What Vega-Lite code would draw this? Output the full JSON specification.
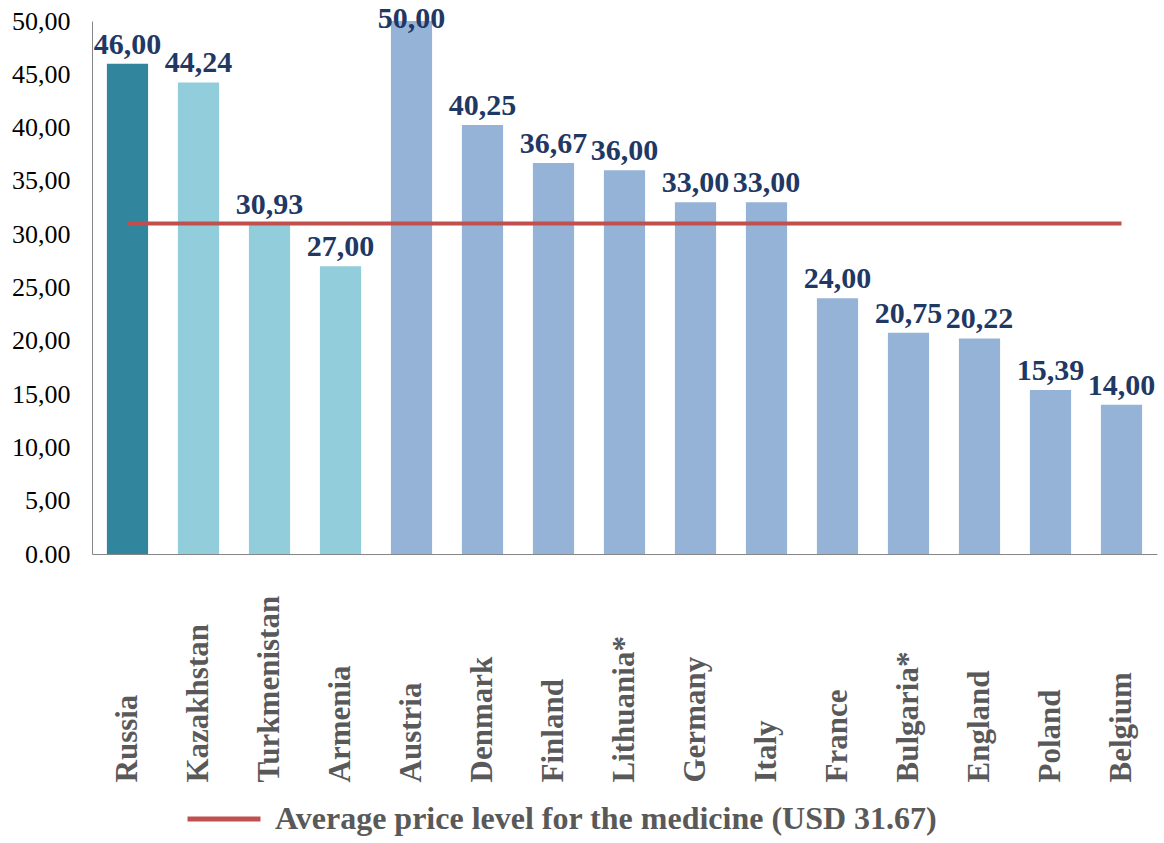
{
  "$schema": "https://vega.github.io/schema/vega-lite/v6.json",
  "width": 1065,
  "height": 533,
  "autosize": {"type": "none"},
  "padding": {"left": 92, "top": 21, "right": 7, "bottom": 289},
  "background": "white",
  "config": {
    "view": {"stroke": null},
    "locale": {"number": {"decimal": ",", "thousands": ".", "grouping": [3], "currency": ["", ""]}}
  },
  "data": {
    "values": [
      {"country": "Russia", "price": 46.00, "group": "Russia"},
      {"country": "Kazakhstan", "price": 44.24, "group": "CIS"},
      {"country": "Turkmenistan", "price": 30.93, "group": "CIS"},
      {"country": "Armenia", "price": 27.00, "group": "CIS"},
      {"country": "Austria", "price": 50.00, "group": "Europe"},
      {"country": "Denmark", "price": 40.25, "group": "Europe"},
      {"country": "Finland", "price": 36.67, "group": "Europe"},
      {"country": "Lithuania*", "price": 36.00, "group": "Europe"},
      {"country": "Germany", "price": 33.00, "group": "Europe"},
      {"country": "Italy", "price": 33.00, "group": "Europe"},
      {"country": "France", "price": 24.00, "group": "Europe"},
      {"country": "Bulgaria*", "price": 20.75, "group": "Europe"},
      {"country": "England", "price": 20.22, "group": "Europe"},
      {"country": "Poland", "price": 15.39, "group": "Europe"},
      {"country": "Belgium", "price": 14.00, "group": "Europe"}
    ]
  },
  "encoding": {
    "x": {
      "field": "country",
      "type": "nominal",
      "sort": null,
      "scale": {"paddingInner": 0.42, "paddingOuter": 0.21},
      "axis": {
        "title": null,
        "labelAngle": -90,
        "labelAlign": "left",
        "labelBaseline": "middle",
        "labelPadding": 228,
        "ticks": false,
        "domainColor": "#868686",
        "labelFont": "Liberation Serif",
        "labelFontWeight": "bold",
        "labelFontSize": 31,
        "labelColor": "#595959",
        "labelOverlap": false,
        "labelLimit": 400
      }
    }
  },
  "layer": [
    {
      "mark": {"type": "bar"},
      "encoding": {
        "y": {
          "field": "price",
          "type": "quantitative",
          "scale": {"domain": [0, 50], "nice": false},
          "axis": {
            "title": null,
            "values": [0, 5, 10, 15, 20, 25, 30, 35, 40, 45, 50],
            "format": ".2f",
            "labelExpr": "datum.value == 0 ? '0.00' : datum.label",
            "ticks": false,
            "grid": false,
            "domainColor": "#868686",
            "labelFont": "Liberation Serif",
            "labelFontSize": 26,
            "labelColor": "#000000",
            "labelPadding": 22
          }
        },
        "color": {
          "field": "group",
          "type": "nominal",
          "scale": {"domain": ["Russia", "CIS", "Europe"], "range": ["#31859C", "#92CDDC", "#95B3D7"]},
          "legend": null
        }
      }
    },
    {
      "mark": {"type": "line", "strokeWidth": 4},
      "encoding": {
        "y": {"datum": 31, "type": "quantitative"},
        "color": {
          "datum": "Average price level for the medicine (USD 31.67)",
          "scale": {"range": ["#C0504D"]},
          "legend": {
            "orient": "none",
            "legendX": 93,
            "legendY": 759,
            "title": null,
            "padding": 0,
            "symbolType": "stroke",
            "symbolSize": 5329,
            "symbolStrokeWidth": 5,
            "symbolStrokeColor": "#C00000",
            "labelFont": "Liberation Serif",
            "labelFontWeight": "bold",
            "labelFontSize": 32,
            "labelColor": "#595959",
            "labelOffset": 12,
            "labelLimit": 1000,
            "encode": {"symbols": {"enter": {"stroke": {"value": "#C00000"}}, "update": {"stroke": {"value": "#C00000"}}}}
          }
        }
      }
    },
    {
      "transform": [{"calculate": "min(datum.price, 48.4)", "as": "labelY"}],
      "mark": {
        "type": "text",
        "font": "Liberation Serif",
        "fontWeight": "bold",
        "fontSize": 30,
        "color": "#1F3864",
        "baseline": "alphabetic",
        "dy": -10
      },
      "encoding": {
        "y": {"field": "labelY", "type": "quantitative"},
        "text": {"field": "price", "type": "quantitative", "format": ".2f"}
      }
    }
  ],
  "resolve": {"scale": {"color": "independent"}}
}
